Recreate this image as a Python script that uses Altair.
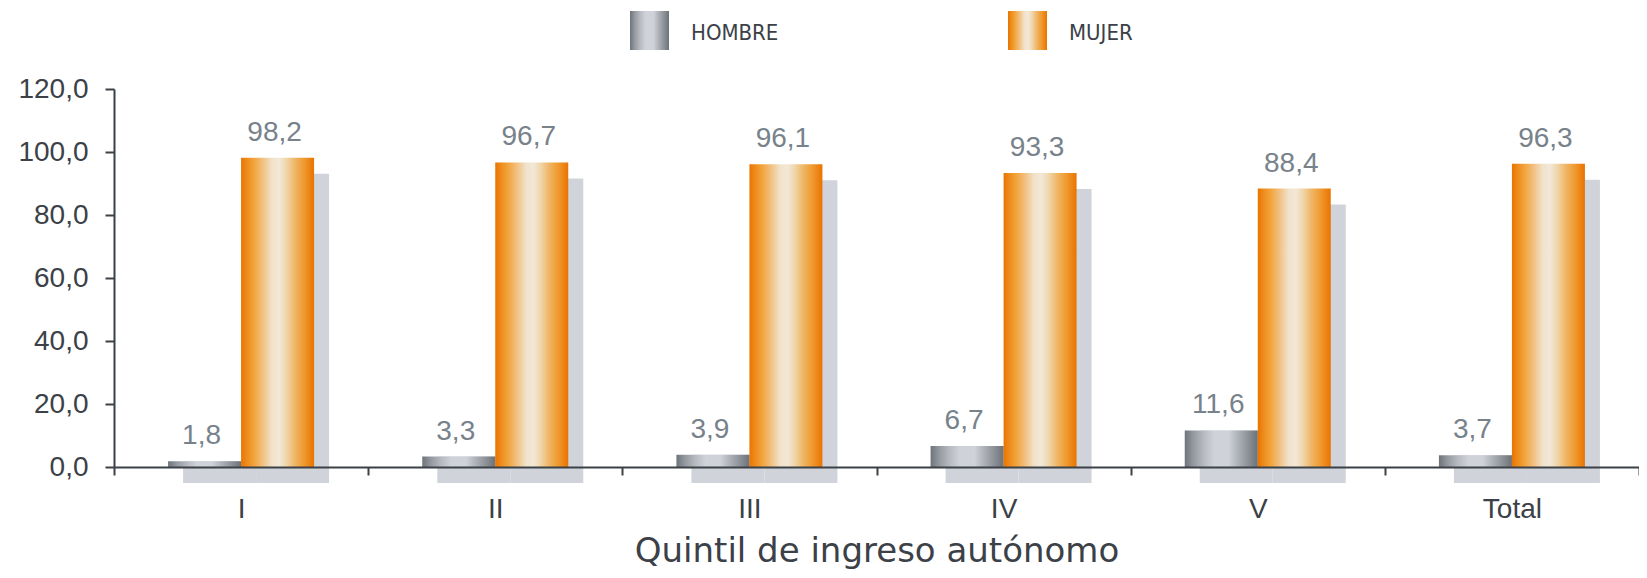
import altair as alt
import pandas as pd

# ---- data ----
QUINTILES = ["I", "II", "III", "IV", "V", "Total"]
HOMBRE = [1.8, 3.3, 3.9, 6.7, 11.6, 3.7]
MUJER = [98.2, 96.7, 96.1, 93.3, 88.4, 96.3]
SERIES = ["HOMBRE", "MUJER"]
Y_TICKS = [0, 20, 40, 60, 80, 100, 120]
X_TITLE = "Quintil de ingreso autónomo"

rows = []
for q, h, m in zip(QUINTILES, HOMBRE, MUJER):
    rows.append({"quintil": q, "serie": SERIES[0], "valor": h})
    rows.append({"quintil": q, "serie": SERIES[1], "valor": m})
df = pd.DataFrame(rows)

# ---- styles ----
W, H = 1525, 378
BW = 73            # bar width px
SHX, SHY = 15, 16  # shadow offset
SHADOW = "#d0d3da"
DARK = "#3b4147"
VALCOL = "#78828b"
NARROW = "'Liberation Sans Narrow', 'DejaVu Sans Condensed', Roboto, sans-serif"

def grad(stops):
    return {"gradient": "linear", "x1": 0, "x2": 1, "y1": 0, "y2": 0,
            "stops": [{"offset": o, "color": c} for o, c in stops]}

GRAY = grad([(0, "#6e747a"), (0.12, "#959aa0"), (0.26, "#b7bbc1"), (0.4, "#cfd2d8"),
             (0.6, "#cfd2d8"), (0.72, "#b1b5bb"), (0.86, "#8f949a"), (1, "#6c7278")])
ORANGE = grad([(0, "#e97400"), (0.08, "#ee8c1c"), (0.18, "#f2a53e"), (0.3, "#f1c184"),
               (0.42, "#f1e2c9"), (0.52, "#f2e8d8"), (0.62, "#f0d6ab"), (0.74, "#efb563"),
               (0.86, "#f09a30"), (1, "#e97300")])
FILLS = {SERIES[0]: GRAY, SERIES[1]: ORANGE}
SIGN = {SERIES[0]: -1, SERIES[1]: 1}
# the man's shadow keeps its top hidden behind the bar, so only the strip
# under the baseline shows, as in the reference
SHADOW_TOP = {SERIES[0]: 0, SERIES[1]: SHY}

x_enc = alt.X(
    "quintil:N",
    sort=QUINTILES,
    scale=alt.Scale(paddingInner=0, paddingOuter=0),
    axis=alt.Axis(
        title=X_TITLE, labelAngle=0, labelFont="Liberation Sans", labelFontSize=28,
        labelColor=DARK, labelPadding=20, tickBand="extent", tickSize=8,
        tickColor=DARK, tickWidth=2, domainColor=DARK, domainWidth=2,
        titleFont="DejaVu Sans", titleFontSize=34, titleFontWeight="normal",
        titleColor=DARK, titlePadding=11, zindex=1,
    ),
)
y_enc = alt.Y(
    "valor:Q",
    scale=alt.Scale(domain=[0, 120], nice=False),
    axis=alt.Axis(
        values=Y_TICKS, title=None, grid=False,
        labelExpr="replace(format(datum.value, '.1f'), '.', ',')",
        labelFont="Liberation Sans", labelFontSize=28, labelColor=DARK,
        labelPadding=17, tickSize=9, tickColor=DARK, tickWidth=2,
        domainColor=DARK, domainWidth=2,
    ),
)

base = alt.Chart(df).transform_calculate(
    label="replace(format(datum.valor, '.1f'), '.', ',')",
    base0="0",
)

layers = []
for s in SERIES:
    layers.append(
        base.transform_filter(alt.datum.serie == s)
        .mark_bar(width=BW, fill=SHADOW, xOffset=SIGN[s] * BW / 2 + SHX,
                  yOffset=SHADOW_TOP[s], y2Offset=SHY)
        .encode(x=x_enc, y=y_enc, y2=alt.Y2("base0:Q"))
    )
for s in SERIES:
    layers.append(
        base.transform_filter(alt.datum.serie == s)
        .mark_bar(width=BW, fill=FILLS[s], xOffset=SIGN[s] * BW / 2)
        .encode(x=x_enc, y=y_enc)
    )
for s in SERIES:
    layers.append(
        base.transform_filter(alt.datum.serie == s)
        .mark_text(font="Liberation Sans", fontSize=28, color=VALCOL,
                   baseline="alphabetic", dy=-17, xOffset=SIGN[s] * BW / 2 - 3)
        .encode(x=x_enc, y=y_enc, text="label:N")
    )

# ---- legend (manual, gradient swatches) ----
LEG_X = {SERIES[0]: 516, SERIES[1]: 894}
for s in SERIES:
    ldf = pd.DataFrame({"serie": [s]})
    layers.append(
        alt.Chart(ldf).mark_rect(fill=FILLS[s]).encode(
            x=alt.value(LEG_X[s]), x2=alt.value(LEG_X[s] + 39),
            y=alt.value(-78), y2=alt.value(-39))
    )
    layers.append(
        alt.Chart(ldf).mark_text(font=NARROW, fontSize=22, color=DARK,
                                 align="left", baseline="alphabetic").encode(
            x=alt.value(LEG_X[s] + 61), y=alt.value(-49), text="serie:N")
    )

chart = alt.layer(*layers).properties(
    width=W, height=H,
    autosize=alt.AutoSizeParams(type="none"),
    padding={"left": 106, "top": 81, "right": 0, "bottom": 103},
    background="white",
).configure_view(stroke=None)

chart.save("out.html", embed_options={"renderer": "svg", "actions": False})
